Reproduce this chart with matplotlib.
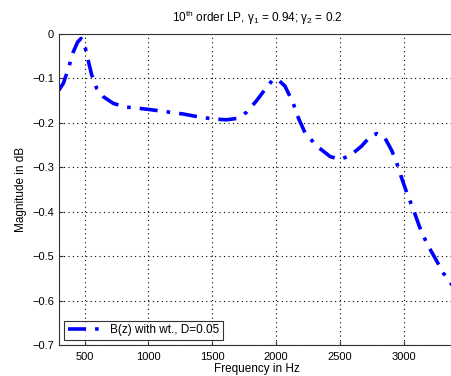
#!/usr/bin/env python3

import matplotlib
matplotlib.use("Agg")
import matplotlib.pyplot as plt

# frequency response (Hz, dB)
freq = [300, 334, 373, 412, 446, 472, 498, 525, 556, 595, 647, 725, 817, 921,
        1013, 1143, 1274, 1404, 1508, 1612, 1690, 1769, 1847, 1925, 1977, 2016,
        2069, 2130, 2176, 2226, 2318, 2424, 2500, 2578, 2670, 2735, 2787, 2850,
        2905, 2944, 2978, 3025, 3072, 3123, 3181, 3246, 3311, 3363, 3400]
mag = [-0.126, -0.111, -0.078, -0.040, -0.018, -0.010, -0.021, -0.055, -0.092,
       -0.122, -0.141, -0.156, -0.164, -0.167, -0.170, -0.175, -0.180, -0.187,
       -0.191, -0.193, -0.190, -0.176, -0.150, -0.120, -0.102, -0.103, -0.117,
       -0.153, -0.190, -0.222, -0.252, -0.276, -0.282, -0.274, -0.252, -0.231,
       -0.224, -0.233, -0.262, -0.290, -0.320, -0.359, -0.393, -0.434, -0.472,
       -0.505, -0.539, -0.557, -0.580]

xticks = [500, 1000, 1500, 2000, 2500, 3000]
yticks = [0, -0.1, -0.2, -0.3, -0.4, -0.5, -0.6, -0.7]
ytick_labels = ['0', '\u22120.1', '\u22120.2', '\u22120.3', '\u22120.4',
                '\u22120.5', '\u22120.6', '\u22120.7']


def main():
    plt.rcParams['font.family'] = ['Liberation Sans', 'DejaVu Sans']
    plt.rcParams['mathtext.fontset'] = 'custom'
    plt.rcParams['mathtext.rm'] = 'Liberation Sans'
    plt.rcParams['mathtext.it'] = 'Liberation Sans'

    fig = plt.figure(figsize=(4.52, 3.76), dpi=100)
    ax = fig.add_axes([0.1305, 0.0824, 0.876, 0.827])

    ax.plot(freq, mag, color='#0000ff', linestyle='-.', linewidth=2.6,
            dashes=(5, 2.5, 1, 2.5), label='B(z) with wt., D=0.05')

    ax.set_xlim(300, 3400)
    ax.set_ylim(-0.7, 0)
    ax.set_xticks(xticks)
    ax.set_yticks(yticks)
    ax.set_yticklabels(ytick_labels)
    ax.tick_params(direction='in', labelsize=8, length=3, color='#333333')
    ax.tick_params(axis='x', pad=5)
    ax.grid(True, color='black', linestyle=(0, (1, 3)), linewidth=0.8)

    for s in ax.spines.values():
        s.set_color('#333333')

    ax.set_xlabel('Frequency in Hz', fontsize=8.5, labelpad=1)
    ax.set_ylabel('Magnitude in dB', fontsize=8.5, labelpad=4)
    ax.set_title(r'10$^{\rm th}$ order LP, $\gamma_1$ = 0.94; $\gamma_2$ = 0.2',
                 fontsize=8.5, pad=9)

    leg = ax.legend(loc='lower left', fontsize=8.5, fancybox=False,
                    edgecolor='black', handlelength=3.0, borderaxespad=0.45,
                    borderpad=0.3, handletextpad=0.6)
    leg.get_frame().set_linewidth(0.8)

    fig.savefig('out.png', dpi=100)


if __name__ == "__main__":
    main()
